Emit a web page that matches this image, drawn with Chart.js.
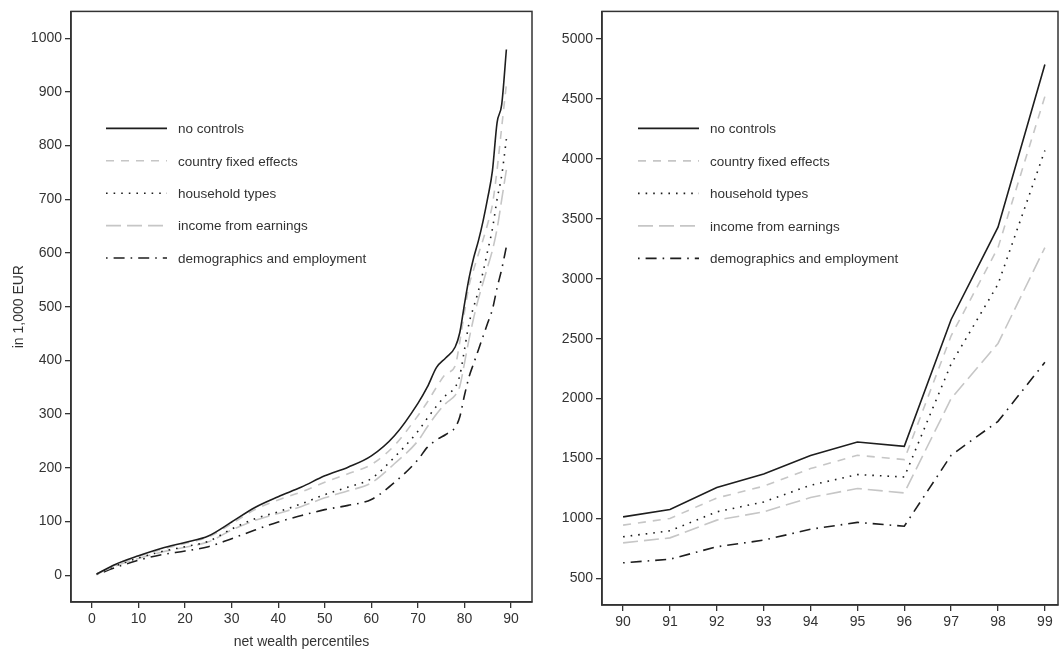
<!DOCTYPE html>
<html>
<head>
<meta charset="utf-8">
<script src="https://cdn.jsdelivr.net/npm/chart.js@4.4.0/dist/chart.umd.min.js"></script>
<style>
body { margin: 0; background: #fff; }
#left-chart { position: absolute; left: 0; top: 0; }
#right-chart { position: absolute; left: 540px; top: 0; }
</style>
</head>
<body>
<canvas id="left-chart" width="540" height="652"></canvas>
<canvas id="right-chart" width="519" height="652"></canvas>
<script>
const LABELS = ['no controls', 'country fixed effects', 'household types', 'income from earnings', 'demographics and employment'];

// left panel: percentiles 1-89
const pct = [1, 5, 10, 15, 20, 25, 30, 35, 40, 45, 50, 55, 60, 65, 70, 72, 74, 76, 78, 79, 80, 81, 82, 83, 84, 85, 86, 87, 88, 89];
const noControls = [2, 20, 36, 50, 61, 73, 99, 126, 146, 164, 185, 201, 222, 260, 320, 350, 387, 405, 425, 452, 505, 554, 592, 623, 660, 703, 753, 843, 877, 979];
const countryFE = [2, 19, 35, 48, 59, 71, 96, 122, 140, 155, 173, 189, 206, 242, 297, 322, 350, 375, 390, 435, 490, 540, 570, 598, 625, 655, 690, 755, 835, 914];
const household = [2, 17, 32, 44, 53, 63, 86, 105, 118, 133, 150, 164, 180, 220, 268, 292, 315, 335, 350, 372, 420, 470, 500, 530, 565, 605, 645, 700, 745, 812];
const income = [2, 17, 31, 43, 52, 62, 84, 102, 115, 128, 144, 157, 172, 208, 250, 276, 300, 320, 335, 352, 395, 440, 480, 515, 545, 575, 605, 645, 700, 755];
const demo = [1, 14, 28, 38, 45, 53, 68, 84, 99, 111, 122, 130, 141, 173, 215, 238, 252, 262, 275, 295, 335, 370, 395, 420, 445, 470, 495, 535, 570, 612];
const leftXTicks = [0, 10, 20, 30, 40, 50, 60, 70, 80, 90];
const leftYTicks = [0, 100, 200, 300, 400, 500, 600, 700, 800, 900, 1000];

// right panel: percentiles 90-99
const rPct = [90, 91, 92, 93, 94, 95, 96, 97, 98, 99];
const rNoControls = [1013, 1075, 1258, 1371, 1525, 1638, 1602, 2660, 3430, 4787];
const rCountryFE = [944, 1000, 1171, 1269, 1416, 1527, 1491, 2524, 3259, 4520];
const rHousehold = [847, 897, 1055, 1138, 1277, 1366, 1346, 2290, 2954, 4070];
const rIncome = [796, 838, 986, 1055, 1175, 1250, 1213, 2000, 2460, 3260];
const rDemo = [630, 660, 764, 819, 910, 967, 935, 1527, 1810, 2303];
const rightXTicks = [90, 91, 92, 93, 94, 95, 96, 97, 98, 99];
const rightYTicks = [500, 1000, 1500, 2000, 2500, 3000, 3500, 4000, 4500, 5000];

const STYLES = [
    { color: '#1e1e1e', dash: [] },
    { color: '#c6c6c6', dash: [8, 7] },
    { color: '#1e1e1e', dash: [1.6, 6] },
    { color: '#c6c6c6', dash: [15, 6] },
    { color: '#1e1e1e', dash: [1.6, 6, 11, 6] }
];

Chart.defaults.font.family = '"Liberation Sans", Arial, sans-serif';
Chart.defaults.font.size = 14;
Chart.defaults.color = '#333';

const frame = {
    id: 'frame',
    afterDraw(chart) {
        const a = chart.chartArea;
        const ctx = chart.ctx;
        ctx.save();
        ctx.strokeStyle = '#333';
        ctx.lineWidth = 1.5;
        ctx.strokeRect(a.left, a.top, a.right - a.left, a.bottom - a.top);
        ctx.restore();
    }
};

const insideLegend = {
    id: 'insideLegend',
    afterDatasetsDraw(chart, args, opts) {
        const a = chart.chartArea;
        const ctx = chart.ctx;
        chart.data.datasets.forEach((ds, i) => {
            const y = a.top + opts.top + i * opts.gap;
            const x0 = a.left + opts.left;
            ctx.save();
            ctx.strokeStyle = ds.borderColor;
            ctx.lineWidth = ds.borderWidth;
            ctx.setLineDash(ds.borderDash);
            ctx.beginPath();
            ctx.moveTo(x0, y);
            ctx.lineTo(x0 + opts.len, y);
            ctx.stroke();
            ctx.setLineDash([]);
            ctx.fillStyle = '#333';
            ctx.font = '13.5px "Liberation Sans", Arial, sans-serif';
            ctx.textBaseline = 'middle';
            ctx.fillText(ds.label, x0 + opts.len + 11, y + 1);
            ctx.restore();
        });
    }
};

function makeDatasets(xs, series, smooth) {
    return series.map((vals, i) => ({
        label: LABELS[i],
        data: xs.map((x, j) => ({ x: x, y: vals[j] })),
        borderColor: STYLES[i].color,
        borderDash: STYLES[i].dash,
        borderWidth: 1.6,
        pointRadius: 0,
        fill: false,
        cubicInterpolationMode: smooth ? 'monotone' : 'default',
        tension: 0
    }));
}

function axis(min, max, ticks, extra) {
    return Object.assign({
        type: 'linear',
        min: min,
        max: max,
        afterBuildTicks: s => { s.ticks = ticks.map(v => ({ value: v })); },
        grid: { display: true, drawOnChartArea: false, drawTicks: true, tickLength: 6, color: '#333', lineWidth: 1.3 },
        border: { display: true, color: '#333', width: 1.5 },
        ticks: { padding: 3, color: '#333', maxRotation: 0, autoSkip: false, callback: v => String(v) }
    }, extra);
}

function createGraph(element, datasets, scales, padding, legendPos) {
    return new Chart(element, {
        type: 'line',
        data: { datasets: datasets },
        options: {
            responsive: false,
            animation: false,
            layout: { padding: padding },
            scales: scales,
            plugins: {
                legend: { display: false },
                tooltip: { enabled: false },
                insideLegend: legendPos
            }
        },
        plugins: [frame, insideLegend]
    });
}

createGraph(
    document.getElementById('left-chart'),
    makeDatasets(pct, [noControls, countryFE, household, income, demo], true),
    {
        x: axis(-4.5, 94.5, leftXTicks, {
            afterFit: s => { s.height = 50; },
            title: { display: true, text: 'net wealth percentiles', color: '#333', font: { size: 14 }, padding: { top: 0, bottom: 1 } }
        }),
        y: axis(-50, 1050, leftYTicks, {
            afterFit: s => { s.width = 71; },
            title: { display: true, text: 'in 1,000 EUR', color: '#333', font: { size: 14 }, padding: { top: 11, bottom: 0 } }
        })
    },
    { top: 10, right: 8, left: 0, bottom: 0 },
    { left: 35, len: 61, top: 117, gap: 32.4 }
);

createGraph(
    document.getElementById('right-chart'),
    makeDatasets(rPct, [rNoControls, rCountryFE, rHousehold, rIncome, rDemo], false),
    {
        x: axis(89.55, 99.28, rightXTicks, { afterFit: s => { s.height = 47; } }),
        y: axis(278, 5230, rightYTicks, { afterFit: s => { s.width = 62; } })
    },
    { top: 10, right: 1, left: 0, bottom: 0 },
    { left: 36, len: 61, top: 117, gap: 32.5 }
);
</script>
</body>
</html>
